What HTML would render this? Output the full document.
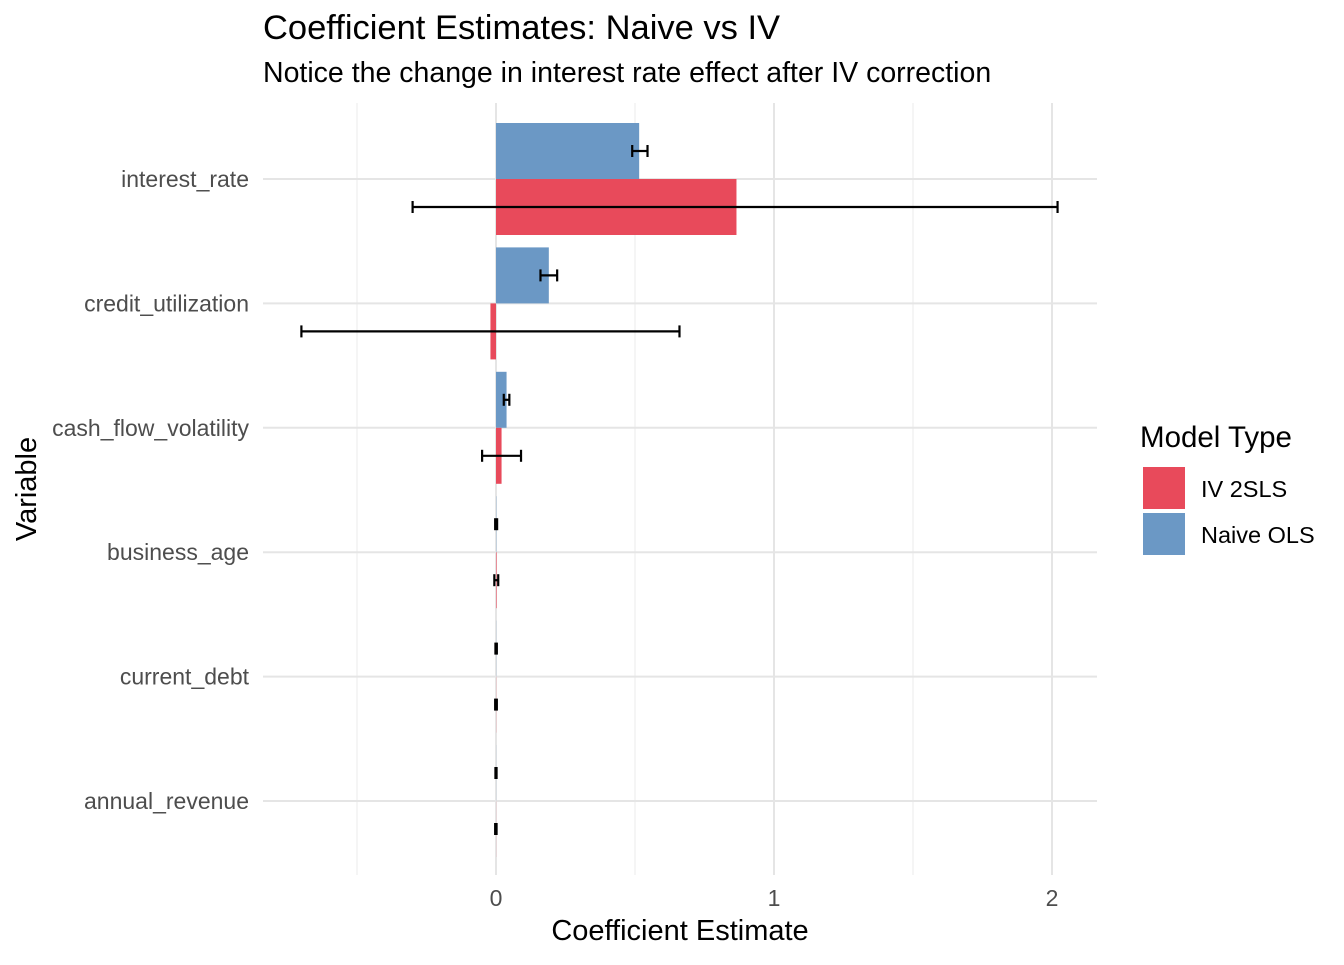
<!DOCTYPE html>
<html><head><meta charset="utf-8"><style>
body{margin:0;background:#fff;font-family:"Liberation Sans",Arial,sans-serif;}
</style></head><body>
<svg id="chart" width="1344" height="960" xmlns="http://www.w3.org/2000/svg">
<rect width="1344" height="960" fill="#fff"/>
<text x="263" y="39" font-size="34.5" fill="#000">Coefficient Estimates: Naive vs IV</text>
<text x="263" y="82" font-size="28.5" fill="#000">Notice the change in interest rate effect after IV correction</text>
<g id="grid"></g>
<g id="bars"></g>
<g id="errs"></g>
<g id="axes"></g>
<text x="680" y="940" font-size="29" text-anchor="middle">Coefficient Estimate</text>
<text transform="translate(36,489) rotate(-90)" font-size="29" text-anchor="middle">Variable</text>
<g>
<text x="1140" y="447" font-size="29.5">Model Type</text>
<rect x="1143" y="467" width="42" height="42" fill="#e84a5b"/>
<text x="1201" y="497" font-size="23.5">IV 2SLS</text>
<rect x="1143" y="513" width="42" height="42" fill="#6b98c5"/>
<text x="1201" y="543" font-size="23.5">Naive OLS</text>
</g>
</svg>
<script>
const categories=["interest_rate","credit_utilization","cash_flow_volatility","business_age","current_debt","annual_revenue"];
const olsEst=[0.515,0.19,0.038,0.001,0.0005,0.0003];
const olsLo=[0.49,0.16,0.028,-0.003,-0.002,-0.002];
const olsHi=[0.545,0.22,0.048,0.004,0.003,0.002];
const ivEst=[0.865,-0.02,0.02,0.002,0.0005,0.0003];
const ivLo=[-0.3,-0.7,-0.05,-0.006,-0.003,-0.003];
const ivHi=[2.02,0.66,0.09,0.008,0.003,0.002];
const xTicks=[0,1,2];
const xMinor=[-0.5,0.5,1.5];
const NS="http://www.w3.org/2000/svg";
const L=263,R=1097,T=103,B=875;
const xs=v=>496+v*278;
const ys=i=>179+i*124.4;
function mk(t,a,p){const e=document.createElementNS(NS,t);for(const k in a)e.setAttribute(k,a[k]);document.getElementById(p).appendChild(e);return e;}
xMinor.forEach(v=>{const e=mk('line',{x1:xs(v),x2:xs(v),y1:T,y2:B,stroke:'#ebebeb','stroke-width':1},'grid');

});
xTicks.forEach(v=>{const e=mk('line',{x1:xs(v),x2:xs(v),y1:T,y2:B,stroke:'#e5e5e5','stroke-width':2},'grid');


const t=mk('text',{x:xs(v),y:906,'font-size':23,fill:'#4d4d4d','text-anchor':'middle'},'axes');t.textContent=v;

});
categories.forEach((c,i)=>{const y=ys(i);
const g=mk('line',{x1:L,x2:R,y1:y,y2:y,stroke:'#e5e5e5','stroke-width':2},'grid');


const t=mk('text',{x:249,y:y+8,'font-size':23,fill:'#4d4d4d','text-anchor':'end'},'axes');t.textContent=c;


const h=56;
const b1=mk('rect',{x:Math.min(xs(0),xs(olsEst[i])),y:y-h,width:Math.abs(xs(olsEst[i])-xs(0)),height:h,fill:'#6b98c5'},'bars');


const b2=mk('rect',{x:Math.min(xs(0),xs(ivEst[i])),y:y,width:Math.abs(xs(ivEst[i])-xs(0)),height:h,fill:'#e84a5b'},'bars');


[[olsLo[i],olsHi[i],y-28,'ols'],[ivLo[i],ivHi[i],y+28,'iv']].forEach(([lo,hi,yy,n])=>{
const gg=mk('g',{stroke:'#000','stroke-width':2.2},'errs');


const x1=xs(lo),x2=xs(hi);
[[x1,yy,x2,yy],[x1,yy-6,x1,yy+6],[x2,yy-6,x2,yy+6]].forEach(a=>{const l=document.createElementNS(NS,'line');l.setAttribute('x1',a[0]);l.setAttribute('y1',a[1]);l.setAttribute('x2',a[2]);l.setAttribute('y2',a[3]);gg.appendChild(l);});
});
});
</script>
</body></html>
